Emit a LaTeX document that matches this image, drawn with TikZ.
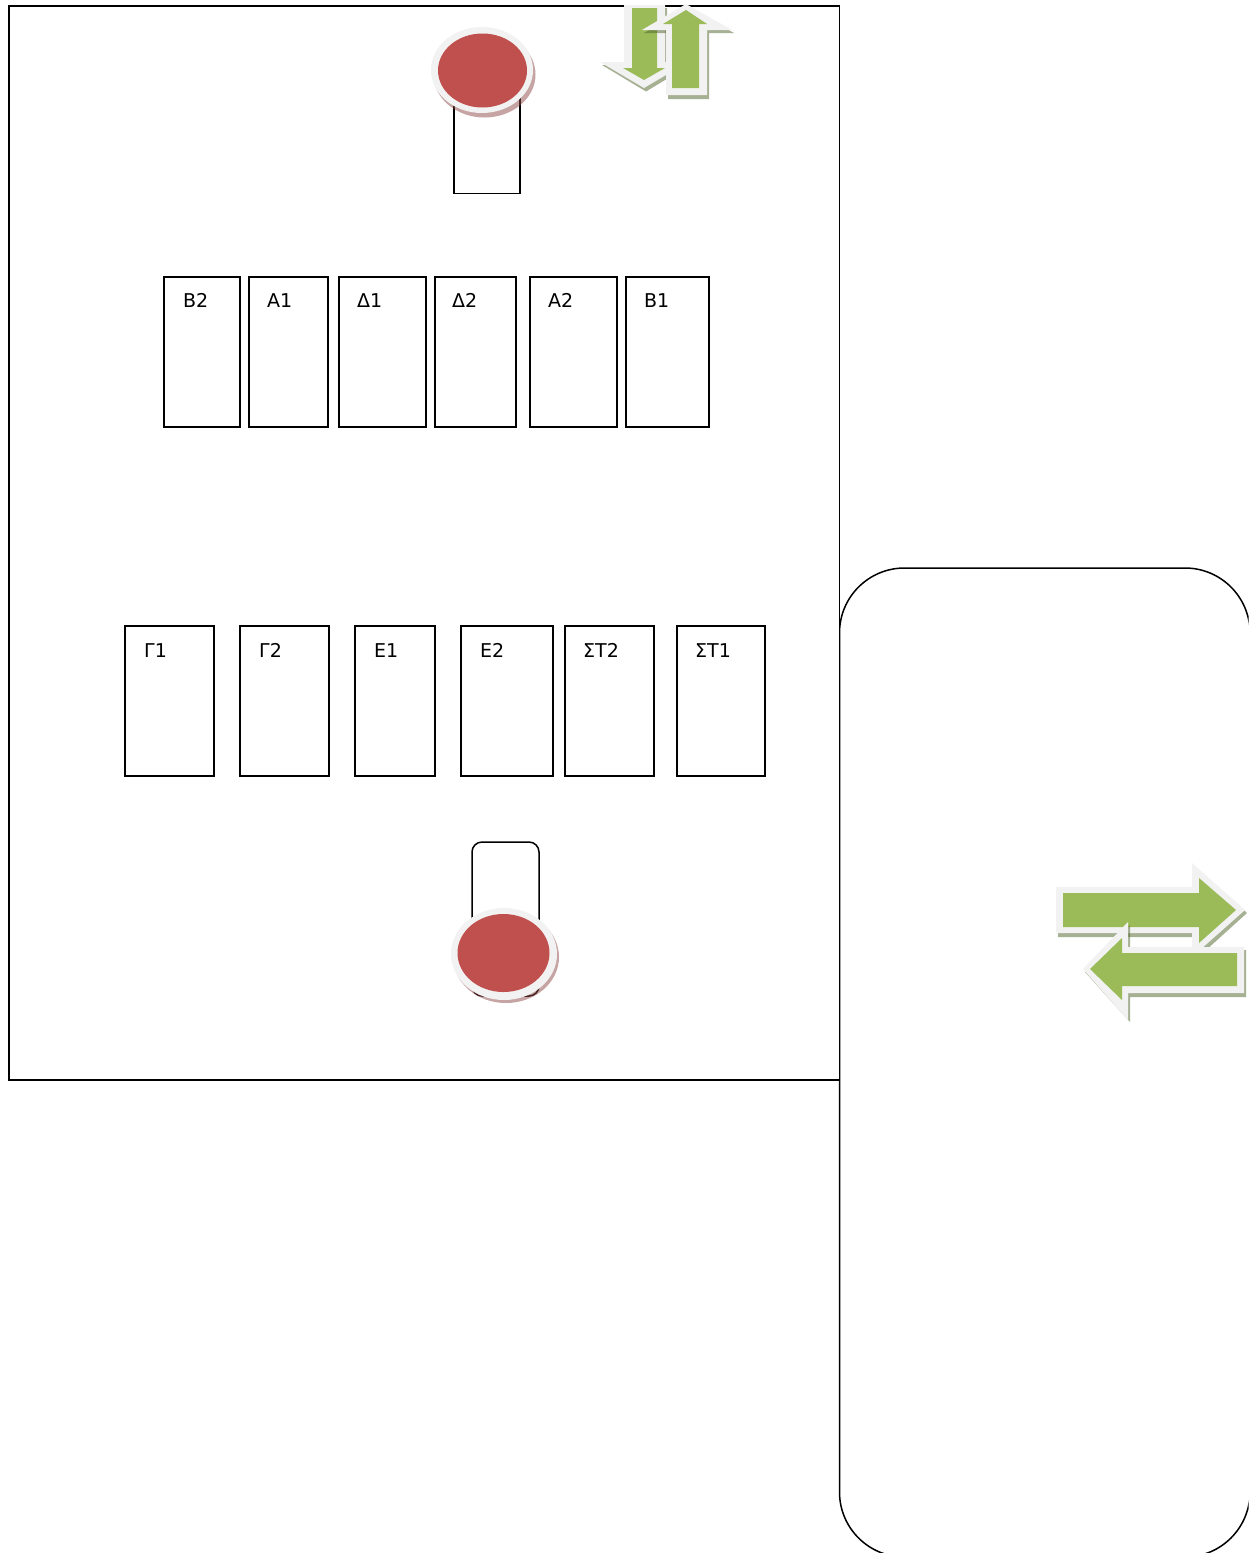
\documentclass[tikz,border=0pt]{standalone}
\usepackage{fontspec}
\setmainfont{DejaVu Sans}
\definecolor{arrowgreen}{HTML}{9BBB59}
\definecolor{arrowrim}{HTML}{F2F2F2}
\definecolor{arrowshadow}{HTML}{4F6228}
\definecolor{discred}{HTML}{C0504D}
\definecolor{discshade}{HTML}{8C4A48}
\tikzset{
  x=1pt,y=-1pt,
  frame/.style={draw=black,line width=1.1pt,fill=white},
  curvedframe/.style={draw=black,line width=1.5pt,fill=white},
  slotbox/.style={frame,inner sep=0pt,minimum height=150pt},
  lbl/.style={font=\fontsize{19}{22}\selectfont,anchor=base west,inner sep=0pt,text=black},
  rimshape/.style={fill=arrowrim,draw=none},
  greenshape/.style={fill=arrowgreen,draw=none},
  shadowshape/.style={fill=arrowshadow,fill opacity=.5,draw=none},
  discshadow/.style={fill=discshade,fill opacity=.5,draw=none},
}
\begin{document}
\begin{tikzpicture}
\useasboundingbox (0,0) rectangle (1251,1553);
\fill[white] (0,0) rectangle (1251,1553);
\begin{scope}
\clip (0,0) rectangle (1248.5,1553);
\draw[curvedframe] (839.5,633) arc[start angle=180,end angle=90,x radius=65,y radius=-65] -- (1185,568) arc[start angle=90,end angle=0,x radius=65,y radius=-65] -- (1250,1492) arc[start angle=0,end angle=-90,x radius=65,y radius=-65] -- (904.5,1557) arc[start angle=-90,end angle=-180,x radius=65,y radius=-65] -- cycle;
\end{scope}
\draw[frame] (9,6) rectangle (839.5,1080);
% upper row
\node[slotbox,minimum width=76pt] (b2) at (202,352) {};
\node[slotbox,minimum width=79pt] (a1) at (288.5,352) {};
\node[slotbox,minimum width=87pt] (d1) at (382.5,352) {};
\node[slotbox,minimum width=81pt] (d2) at (475.5,352) {};
\node[slotbox,minimum width=87pt] (a2) at (573.5,352) {};
\node[slotbox,minimum width=83pt] (b1) at (667.5,352) {};
\node[lbl] (tb2) at (183,307) {Β2};
\node[lbl] (ta1) at (267,307) {Α1};
\node[lbl] (td1) at (357,307) {Δ1};
\node[lbl] (td2) at (452,307) {Δ2};
\node[lbl] (ta2) at (548,307) {Α2};
\node[lbl] (tb1) at (644,307) {Β1};
% lower row
\node[slotbox,minimum width=89pt] (g1) at (169.5,701) {};
\node[slotbox,minimum width=89pt] (g2) at (284.5,701) {};
\node[slotbox,minimum width=80pt] (e1) at (395,701) {};
\node[slotbox,minimum width=92pt] (e2) at (507,701) {};
\node[slotbox,minimum width=89pt] (s2) at (609.5,701) {};
\node[slotbox,minimum width=88pt] (s1) at (721,701) {};
\node[lbl] (tg1) at (144,657) {Γ1};
\node[lbl] (tg2) at (259,657) {Γ2};
\node[lbl] (te1) at (374,657) {Ε1};
\node[lbl] (te2) at (480,657) {Ε2};
\node[lbl] (ts2) at (583,657) {ΣΤ2};
\node[lbl] (ts1) at (695,657) {ΣΤ1};
% top slot and disc
\node[curvedframe,inner sep=0pt,minimum width=66pt,minimum height=100pt] (slot1) at (487,143.5) {};
\fill[discshadow] (484.5,74.5) ellipse[x radius=51,y radius=43];
\fill[arrowrim] (482,70) ellipse[x radius=51,y radius=43];
\fill[discred] (482.5,70.5) ellipse[x radius=44.5,y radius=37];
% bottom slot and disc
\draw[curvedframe,rounded corners=10pt] (472,996) -- (472,842) -- (539,842) -- (539,996) -- cycle;
\fill[discshadow] (506,957) ellipse[x radius=53,y radius=46];
\fill[arrowrim] (504,954) ellipse[x radius=53,y radius=46];
\fill[discred] (503.5,953) ellipse[x radius=46,y radius=39];
% down arrow
\fill[shadowshape] (626,8) -- (667,8) -- (667,65) -- (690,65) -- (646,91.5) -- (602,65) -- (626,65) -- cycle;
\fill[rimshape] (624,5) -- (665,5) -- (665,62) -- (688,62) -- (644,88) -- (600,62) -- (624,62) -- cycle;
\fill[greenshape] (632,8) -- (657,8) -- (657,68) -- (665,68) -- (644,80) -- (623,68) -- (632,68) -- cycle;
% up arrow
\fill[shadowshape] (668,99) -- (709,99) -- (709,33) -- (734,33) -- (688,8) -- (644,33) -- (668,33) -- cycle;
\fill[rimshape] (666,95) -- (707,95) -- (707,30) -- (732,30) -- (686,4) -- (642,30) -- (666,30) -- cycle;
\fill[greenshape] (672,88) -- (699,88) -- (699,24) -- (707,24) -- (686,10) -- (663,24) -- (672,24) -- cycle;
% right arrow
\fill[shadowshape] (1058,937) -- (1194,937) -- (1194,961) -- (1247,913) -- (1194,866) -- (1194,890) -- (1058,890) -- cycle;
\fill[rimshape] (1056,933) -- (1192,933) -- (1192,957) -- (1245,910) -- (1192,863) -- (1192,887) -- (1056,887) -- cycle;
\fill[greenshape] (1063,927) -- (1199,927) -- (1199,943) -- (1236,910) -- (1199,878) -- (1199,893) -- (1063,893) -- cycle;
% left arrow
\fill[shadowshape] (1246,997) -- (1130,997) -- (1130,1022) -- (1085,972) -- (1130,925) -- (1130,950) -- (1246,950) -- cycle;
\fill[rimshape] (1244,993) -- (1128,993) -- (1128,1020) -- (1083,969) -- (1128,922) -- (1128,947) -- (1244,947) -- cycle;
\fill[greenshape] (1237,986) -- (1122,986) -- (1122,1000) -- (1090,969) -- (1122,938) -- (1122,953) -- (1237,953) -- cycle;
\end{tikzpicture}
\end{document}
